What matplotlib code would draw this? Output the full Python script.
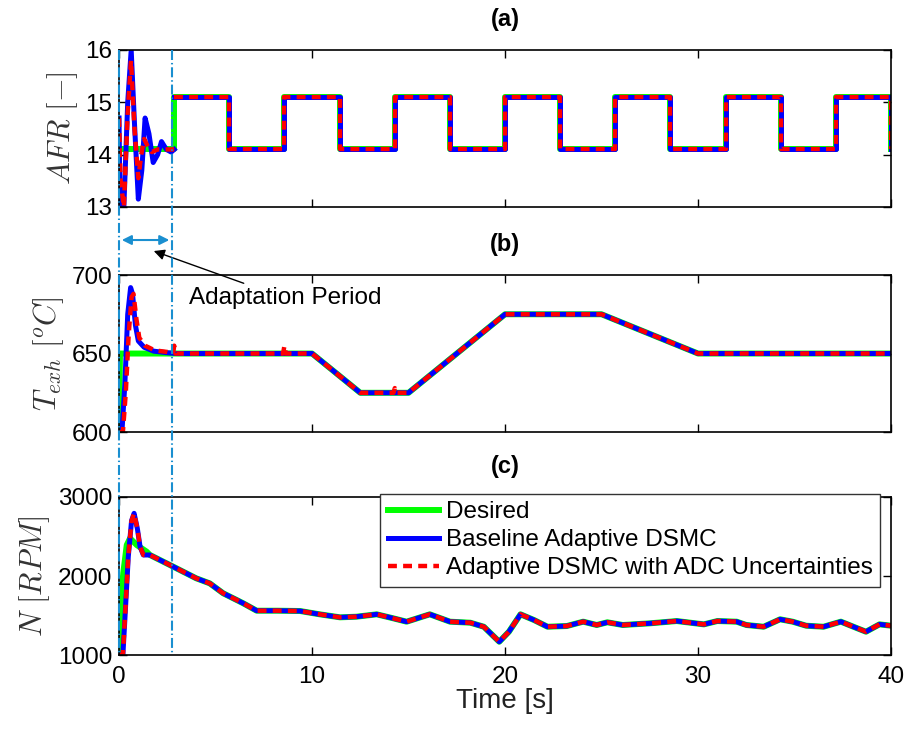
import matplotlib
matplotlib.use("Agg")
import matplotlib.pyplot as plt
import matplotlib.transforms as mtransforms
from matplotlib.lines import Line2D

plt.rcParams['font.family'] = ['Liberation Sans', 'DejaVu Sans']
plt.rcParams['mathtext.fontset'] = 'cm'

# ---- data ----
# (a) AFR
afr_step_t = [0, 2.86, 5.71, 8.57, 11.43, 14.29, 17.14, 20.0, 22.86, 25.71, 28.57, 31.43, 34.29, 37.14, 40.0]
afr_step_v = [14.1, 15.1, 14.1, 15.1, 14.1, 15.1, 14.1, 15.1, 14.1, 15.1, 14.1, 15.1, 14.1, 15.1, 14.1]
afr_base_t = [0, 0.05, 0.25, 0.45, 0.63, 0.8, 1.0, 1.18, 1.35, 1.55, 1.77, 2.0, 2.2, 2.45, 2.7, 2.86]
afr_base_v = [14.7, 13.0, 13.0, 15.0, 16.0, 14.6, 13.15, 13.7, 14.7, 14.4, 13.85, 14.0, 14.25, 14.1, 14.05, 14.1]
afr_adc_t = [0, 0.08, 0.25, 0.45, 0.62, 0.8, 1.0, 1.15, 1.3, 1.5, 1.7, 2.0, 2.86]
afr_adc_v = [14.7, 13.5, 13.0, 14.8, 15.8, 14.5, 13.55, 14.0, 14.3, 14.15, 14.05, 14.1, 14.1]

# (b) exhaust temperature
tex_des_t = [0, 0.05, 10, 12.5, 15, 20, 25, 30, 40]
tex_des_v = [600, 650, 650, 625, 625, 675, 675, 650, 650]
tex_base_t = [0, 0.15, 0.3, 0.45, 0.6, 0.7, 0.85, 1.0, 1.3, 1.8, 2.5, 3.0, 10, 12.5, 15, 20, 25, 30, 40]
tex_base_v = [600, 600, 630, 675, 692, 688, 668, 658, 654, 651.5, 650.5, 650, 650, 625, 625, 675, 675, 650, 650]
tex_adc_t = [0, 0.2, 0.35, 0.5, 0.65, 0.75, 0.9, 1.05, 1.35, 1.85, 2.5, 2.8, 2.86, 2.92, 8.5, 8.57, 8.64,
             10, 12.5, 14.22, 14.29, 14.36, 15, 20, 25, 30, 40]
tex_adc_v = [600, 600, 625, 662, 686, 688, 672, 660, 655, 652, 651, 650, 655, 650, 650, 655, 650,
             650, 625, 625, 628, 625, 625, 675, 675, 650, 650]

# (c) engine speed
n_tail_t = [1.6, 2.64, 4.0, 4.7, 5.4, 6.1, 6.44, 7.13, 8.2, 9.38, 10.4, 11.45, 12.3, 13.35, 14.2, 14.9,
            16.1, 17.15, 18.2, 18.9, 19.7, 20.2, 20.8, 21.5, 22.2, 23.2, 24.05, 24.75, 25.3, 26.1, 27.5,
            28.9, 30.3, 31.0, 32.0, 32.5, 33.4, 34.25, 34.9, 35.6, 36.5, 37.4, 38.05, 38.7, 39.4, 40.0]
n_tail_v = [2266, 2139, 1971, 1907, 1781, 1696, 1654, 1561, 1561, 1557, 1515, 1477, 1485, 1515, 1465, 1422,
            1515, 1422, 1409, 1358, 1168, 1295, 1515, 1443, 1358, 1367, 1422, 1380, 1414, 1380, 1401,
            1430, 1388, 1430, 1422, 1380, 1358, 1452, 1422, 1371, 1358, 1422, 1358, 1295, 1388, 1371]
n_des_t = [0, 0.05, 0.22, 0.4, 0.57, 0.92, 1.43]
n_des_v = [1000, 1485, 2038, 2392, 2477, 2392, 2308]
n_base_t = [0, 0.2, 0.31, 0.48, 0.65, 0.78, 0.95, 1.09, 1.26]
n_base_v = [1000, 1000, 1485, 2245, 2700, 2793, 2600, 2371, 2266]

labels = ['Desired', 'Baseline Adaptive DSMC', 'Adaptive DSMC with ADC Uncertainties']

green = '#00ff00'
blue = '#0000ff'
red = '#ff0000'
cyan = '#1a8fd0'
lw_g, lw_b, lw_r = 4.3, 3.6, 3.2
red_dash = (2.0, 1.4)
line_kw = dict(solid_joinstyle='round', dash_joinstyle='round')

fig = plt.figure(figsize=(9.1, 7.34), dpi=100)
ax1 = fig.add_axes([0.1308, 0.718, 0.8484, 0.2139])
ax2 = fig.add_axes([0.1308, 0.4114, 0.8484, 0.2139])
ax3 = fig.add_axes([0.1308, 0.1076, 0.8484, 0.2153])

# (a)
ax1.plot(afr_step_t, afr_step_v, color=green, lw=lw_g, drawstyle='steps-post', **line_kw)
ax1.plot(afr_base_t, afr_base_v, color=blue, lw=lw_b, **line_kw)
ax1.plot(afr_step_t[1:], afr_step_v[1:], color=blue, lw=lw_b, drawstyle='steps-post', **line_kw)
ax1.plot(afr_adc_t, afr_adc_v, color=red, lw=lw_r, dashes=red_dash, **line_kw)
ax1.plot(afr_step_t[1:], afr_step_v[1:], color=red, lw=lw_r, dashes=red_dash, drawstyle='steps-post', **line_kw)
ax1.set_ylim(13, 16)
ax1.set_yticks([13, 14, 15, 16])
ax1.set_ylabel(r'$AFR\ [-]$', fontsize=22, color='#333333')
ax1.set_title('(a)', fontweight='bold', fontsize=17, pad=17)

# (b)
ax2.plot(tex_des_t, tex_des_v, color=green, lw=lw_g, **line_kw)
ax2.plot(tex_base_t, tex_base_v, color=blue, lw=lw_b, **line_kw)
ax2.plot(tex_adc_t, tex_adc_v, color=red, lw=lw_r, dashes=red_dash, **line_kw)
ax2.set_ylim(600, 700)
ax2.set_yticks([600, 650, 700])
ax2.set_ylabel(r'$T_{exh}\ [^oC]$', fontsize=22, color='#333333')
ax2.set_title('(b)', fontweight='bold', fontsize=17, pad=17)

# (c)
hg, = ax3.plot(n_des_t + n_tail_t, n_des_v + n_tail_v, color=green, lw=lw_g, **line_kw)
hb, = ax3.plot(n_base_t + n_tail_t, n_base_v + n_tail_v, color=blue, lw=lw_b, **line_kw)
hr, = ax3.plot(n_base_t + n_tail_t, n_base_v + n_tail_v, color=red, lw=lw_r, dashes=red_dash, **line_kw)
ax3.set_ylim(1000, 3000)
ax3.set_yticks([1000, 2000, 3000])
ax3.set_ylabel(r'$N\ [RPM]$', fontsize=22, color='#333333')
ax3.set_title('(c)', fontweight='bold', fontsize=17, pad=17)
ax3.set_xlabel('Time [s]', fontsize=20, labelpad=0, color='#222222')
leg = ax3.legend([hg, hb, hr], labels, loc='upper right', bbox_to_anchor=(0.986, 1.02),
                 fontsize=17.5, frameon=True, fancybox=False, edgecolor='#333333', framealpha=1,
                 handlelength=2.1, borderpad=0.3, labelspacing=0.25, handletextpad=0.3,
                 borderaxespad=0.0)
leg.get_frame().set_linewidth(1.0)

for ax in (ax1, ax2, ax3):
    ax.set_xlim(0, 40)
    ax.set_xticks([0, 10, 20, 30, 40])
    ax.tick_params(direction='in', length=6, width=1, labelsize=17.5, top=True, right=True)
    ax.tick_params(axis='x', pad=8)
    ax.tick_params(axis='y', pad=5)
    for s in ax.spines.values():
        s.set_linewidth(1.2)
ax1.tick_params(labelbottom=False)
ax2.tick_params(labelbottom=False)

# adaptation period markers
trans = mtransforms.blended_transform_factory(ax3.transData, fig.transFigure)
for tx in (0.0, 2.75):
    fig.add_artist(Line2D([tx, tx], [0.932, 0.1076], transform=trans, color=cyan,
                          lw=1.5, dashes=(4.8, 1.4, 0.7, 1.4), zorder=5))

ax3.annotate('', xy=(0.0, 0.673), xytext=(2.75, 0.673), xycoords=trans, textcoords=trans,
             arrowprops=dict(arrowstyle='<|-|>', color=cyan, lw=1.5, mutation_scale=14),
             annotation_clip=False)
ax3.annotate('Adaptation Period', xy=(1.8, 0.658), xycoords=trans,
             xytext=(3.6, 0.594), textcoords=trans,
             fontsize=17.5, ha='left', va='center',
             arrowprops=dict(arrowstyle='-|>', color='black', lw=1.0, mutation_scale=16,
                             shrinkA=2, shrinkB=0),
             annotation_clip=False)

fig.savefig('out.png', dpi=100)
